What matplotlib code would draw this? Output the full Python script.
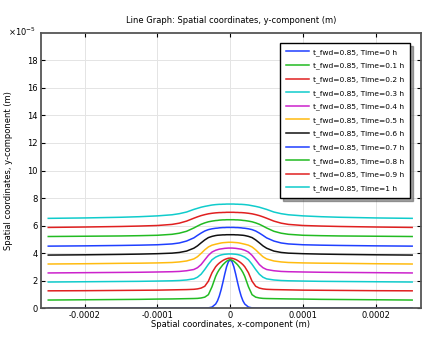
import numpy as np
import matplotlib
matplotlib.use("Agg")
import matplotlib.pyplot as plt

# half-profile x positions (m); curves are symmetric about x = 0
x_half = [0, 0.25e-5, 0.5e-5, 0.75e-5, 1e-5, 1.25e-5, 1.5e-5, 1.75e-5, 2e-5,
          2.5e-5, 3e-5, 3.5e-5, 4e-5, 4.5e-5, 5e-5, 6e-5, 7e-5, 8e-5,
          10e-5, 12.5e-5, 15e-5, 20e-5, 25e-5]

# y-component (x1e-5 m) for each time step
y_t00 = [3.50, 3.37, 3.00, 2.47, 1.88, 1.33, 0.87, 0.52, 0.29, 0.07, 0.01, 0, 0,
         0, 0, 0, 0, 0, 0, 0, 0, 0, 0]
y_t01 = [3.52, 3.48, 3.40, 3.28, 3.15, 2.98, 2.80, 2.58, 2.30, 1.55, 0.97, 0.79,
         0.73, 0.70, 0.69, 0.68, 0.67, 0.66, 0.65, 0.63, 0.62, 0.60, 0.58]
y_t02 = [3.63, 3.62, 3.58, 3.53, 3.46, 3.37, 3.27, 3.15, 3.00, 2.57, 1.95, 1.58,
         1.45, 1.39, 1.36, 1.34, 1.33, 1.32, 1.30, 1.29, 1.28, 1.26, 1.25]
y_t03 = [3.93, 3.93, 3.92, 3.91, 3.89, 3.86, 3.82, 3.76, 3.70, 3.51, 3.18, 2.80,
         2.46, 2.24, 2.12, 2.04, 2.00, 1.98, 1.96, 1.94, 1.93, 1.91, 1.89]
y_t04 = [4.36, 4.36, 4.35, 4.34, 4.32, 4.30, 4.28, 4.24, 4.20, 4.07, 3.83, 3.50,
         3.16, 2.93, 2.80, 2.71, 2.66, 2.64, 2.62, 2.60, 2.59, 2.57, 2.55]
y_t05 = [4.78, 4.78, 4.77, 4.76, 4.75, 4.73, 4.70, 4.67, 4.64, 4.57, 4.44, 4.23,
         3.97, 3.73, 3.57, 3.42, 3.35, 3.31, 3.28, 3.26, 3.25, 3.22, 3.20]
y_t06 = [5.33, 5.33, 5.33, 5.32, 5.32, 5.31, 5.30, 5.29, 5.27, 5.21, 5.12, 4.95,
         4.74, 4.52, 4.35, 4.14, 4.04, 3.99, 3.95, 3.92, 3.90, 3.87, 3.85]
y_t07 = [5.86, 5.86, 5.86, 5.85, 5.85, 5.84, 5.83, 5.81, 5.80, 5.76, 5.70, 5.60,
         5.45, 5.28, 5.10, 4.87, 4.73, 4.66, 4.60, 4.57, 4.55, 4.52, 4.50]
y_t08 = [6.42, 6.42, 6.42, 6.41, 6.41, 6.40, 6.39, 6.37, 6.36, 6.32, 6.27, 6.19,
         6.09, 5.96, 5.82, 5.58, 5.44, 5.36, 5.29, 5.26, 5.24, 5.22, 5.20]
y_t09 = [6.96, 6.96, 6.96, 6.95, 6.95, 6.94, 6.94, 6.93, 6.92, 6.89, 6.85, 6.79,
         6.72, 6.63, 6.53, 6.32, 6.17, 6.08, 6.00, 5.96, 5.93, 5.89, 5.86]
y_t10 = [7.56, 7.56, 7.56, 7.55, 7.55, 7.54, 7.54, 7.53, 7.52, 7.49, 7.44, 7.39,
         7.33, 7.25, 7.17, 6.98, 6.86, 6.78, 6.70, 6.64, 6.60, 6.55, 6.52]

times = ["0", "0.1", "0.2", "0.3", "0.4", "0.5", "0.6", "0.7", "0.8", "0.9", "1"]
curves = [y_t00, y_t01, y_t02, y_t03, y_t04, y_t05, y_t06, y_t07, y_t08, y_t09, y_t10]
colors = ["#1f3fff", "#22bb22", "#e02020", "#10cccc", "#cc22cc", "#ffbb10",
          "#111111", "#1f3fff", "#22bb22", "#e02020", "#10cccc"]

plt.rcParams["font.family"] = "DejaVu Sans"
fig = plt.figure(figsize=(4.44, 3.39), dpi=100)
ax = fig.add_axes([0.0923, 0.0914, 0.8557, 0.8113])

xh = np.array(x_half)
x_full = np.concatenate([-xh[::-1], xh[1:]])
for t, y, c in zip(times, curves, colors):
    yh = np.array(y)
    y_full = np.concatenate([yh[::-1], yh[1:]])
    ax.plot(x_full, y_full, color=c, lw=1.1, label=f"t_fwd=0.85, Time={t} h")

ax.set_xlim(-0.00026, 0.000262)
ax.set_ylim(0, 20)
ax.set_xticks([-0.0002, -0.0001, 0, 0.0001, 0.0002])
ax.set_xticklabels(["-0.0002", "-0.0001", "0", "0.0001", "0.0002"])
ax.set_yticks(range(0, 19, 2))
ax.grid(True, color="#e4e4e4", lw=0.7)
ax.set_axisbelow(True)
ax.tick_params(direction="in", length=3, width=0.8, labelsize=6,
               top=True, right=True, pad=2.5)
for s in ax.spines.values():
    s.set_color("#555555")
    s.set_linewidth(1.3)

ax.set_title("Line Graph: Spatial coordinates, y-component (m)", fontsize=6, pad=7)
ax.set_xlabel("Spatial coordinates, x-component (m)", fontsize=6, labelpad=0)
ax.set_ylabel("Spatial coordinates, y-component (m)", fontsize=6, labelpad=10)
fig.text(0.018, 0.905, r"$\times10^{-5}$", fontsize=6, va="center")

leg = ax.legend(loc="upper right", fontsize=5.4, frameon=True, fancybox=False,
                shadow=True, borderpad=0.8, labelspacing=0.88, handlelength=3.0,
                handletextpad=0.6, bbox_to_anchor=(0.982, 0.978))
leg.get_frame().set_edgecolor("#000000")
leg.get_frame().set_linewidth(1.0)

fig.savefig("out.png", dpi=100)
